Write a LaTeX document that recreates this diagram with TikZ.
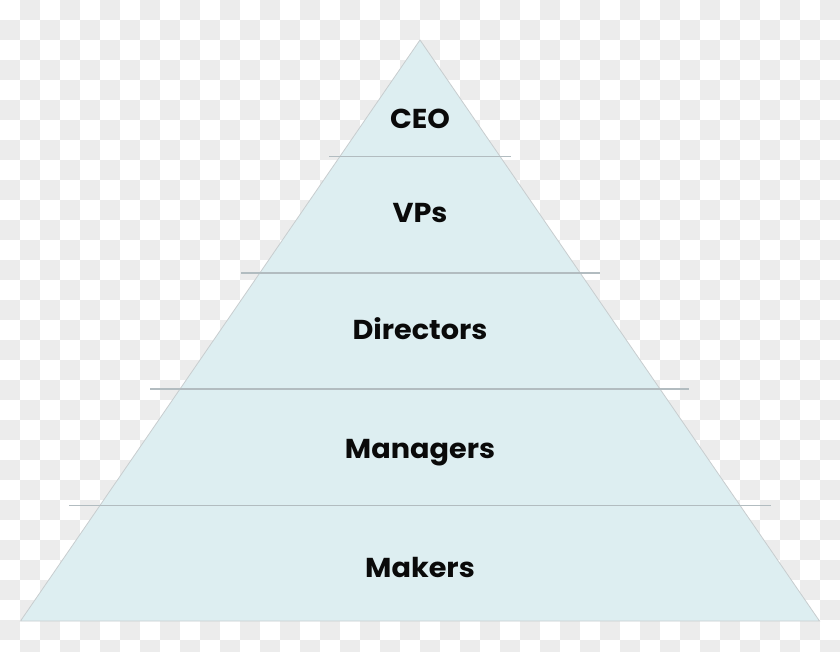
\documentclass[tikz,border=0pt]{standalone}
\usepackage{fontspec}
\setmainfont{Poppins}[BoldFeatures={FakeStretch=1.05}]
\definecolor{checkgrey}{RGB}{236,236,236}
\definecolor{pyrfill}{RGB}{221,238,241}
\definecolor{pyredge}{RGB}{200,205,207}
\definecolor{sepline}{RGB}{178,188,192}
\definecolor{labeltext}{RGB}{10,10,10}
\tikzset{
  levellabel/.style={font=\bfseries\fontsize{20.5}{24}\selectfont, text=labeltext, inner sep=0pt, anchor=base},
  separator/.style={draw=sepline, line width=1.1pt},
  pyramid/.style={fill=pyrfill, draw=pyredge, line width=0.6pt}
}
\begin{document}
\begin{tikzpicture}[x=0.75pt,y=-0.75pt]
\useasboundingbox (0,0) rectangle (840,651);
\fill[white] (0,0) rectangle (840,651);
\foreach \i in {0,...,41}{
  \foreach \j in {0,...,32}{
    \pgfmathtruncatemacro{\cellpar}{mod(\i+\j,2)}
    \ifnum\cellpar=1
      \fill[checkgrey] (\i*20,\j*20) rectangle ++(20,20);
    \fi
  }
}
\coordinate (apex) at (420,40);
\coordinate (bl) at (20.5,621);
\coordinate (br) at (819.5,621);
\path[pyramid] (apex) -- (br) -- (bl) -- cycle;
\coordinate (s1l) at (329,156.5);
\coordinate (s1r) at (511,156.5);
\coordinate (s2l) at (241,273);
\coordinate (s2r) at (600,273);
\coordinate (s3l) at (150,389);
\coordinate (s3r) at (689,389);
\coordinate (s4l) at (69,505.5);
\coordinate (s4r) at (771,505.5);
\draw[separator] (s1l) -- (s1r);
\draw[separator] (s2l) -- (s2r);
\draw[separator] (s3l) -- (s3r);
\draw[separator] (s4l) -- (s4r);
\node[levellabel] (ceo) at (420,128) {CEO};
\node[levellabel] (vps) at (420,222.5) {VPs};
\node[levellabel] (dir) at (420,339) {Directors};
\node[levellabel] (man) at (420,458) {Managers};
\node[levellabel] (mak) at (420,577) {Makers};
\end{tikzpicture}
\end{document}
